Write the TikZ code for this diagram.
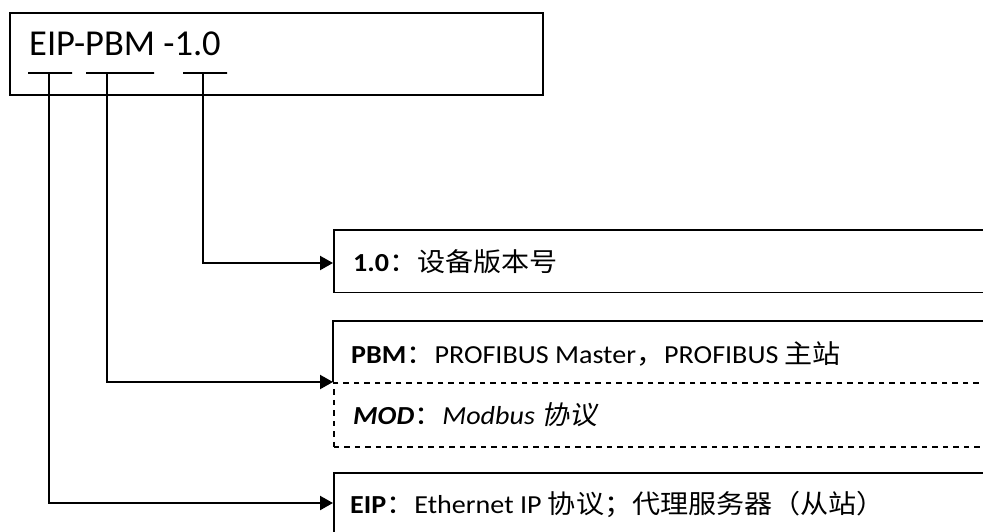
\documentclass[tikz,border=0pt]{standalone}
\usepackage{fontspec}
\setmainfont{Carlito}
\newfontfamily\wide{Carlito}[FakeStretch=1.08]
\newfontfamily\cjk{Noto Sans CJK SC}[FakeStretch=1.08]
\newfontfamily\cjkit{Noto Sans CJK SC}[FakeStretch=1.08, FakeSlant=0.2]
\usetikzlibrary{arrows.meta}

\tikzset{
  boxline/.style={line width=1.7pt, draw=black},
  framebox/.style={boxline, rectangle, inner sep=0pt, anchor=north west},
  dashbox/.style={framebox, dash pattern=on 5.5pt off 5pt},
  openbox/.style={rectangle, inner sep=0pt, anchor=north west},
  barline/.style={draw=black, line width=1.6pt, rectangle, inner sep=0pt,
                  minimum height=0pt},
  conn/.style={line width=2.2pt, -{Triangle[length=13pt,width=14pt]}},
  label/.style={anchor=base west, inner sep=0pt, font=\wide\fontsize{26}{30}\selectfont},
  title/.style={anchor=base west, inner sep=0pt, font=\fontsize{36.5}{42}\selectfont},
}

\begin{document}
\begin{tikzpicture}[x=1pt, y=-1pt]
  \useasboundingbox (0,0) rectangle (983,531);
  \clip (0,0) rectangle (983,531);
  \fill[white] (0,0) rectangle (983,531);

  % product code frame
  \node[framebox, minimum width=533pt, minimum height=82pt] (codebox) at (9,12) {};
  \node[title] (code) at (29,55) {EIP-PBM -1.0};

  % underline marks below each part of the code
  \node[barline, minimum width=44pt] (bareip) at (50,73) {};
  \node[barline, minimum width=68pt] (barpbm) at (120,73) {};
  \node[barline, minimum width=44pt] (barver) at (205,73) {};
  \coordinate (jeip) at (49,73);
  \coordinate (jpbm) at (107,73);
  \coordinate (jver) at (203,73);

  % version box
  \node[framebox, minimum width=700pt, minimum height=62.5pt] (verbox) at (333,229) {};
  \node[label] (vertext) at (353,271.5) {{\bfseries 1.0}{\cjk ：设备版本号}};
  \coordinate (verin) at (333,263);

  % protocol box: solid upper part, dashed alternative below
  \node[openbox, minimum width=700pt, minimum height=61pt] (pbmbox) at (333,321) {};
  \draw[boxline] (pbmbox.south west) -- (pbmbox.north west) -- (pbmbox.north east);
  \node[dashbox, minimum width=700pt, minimum height=64pt] (modbox) at (pbmbox.south west) {};
  \node[label] (pbmtext) at (351,363) {{\bfseries PBM}{\cjk ：}PROFIBUS Master{\cjk ，}PROFIBUS {\cjk 主站}};
  \node[label] (modtext) at (353,424) {{\bfseries\itshape MOD}{\cjk ：}{\itshape Modbus} {\cjkit 协议}};
  \coordinate (pbmin) at (333,382);

  % gateway box
  \node[framebox, minimum width=700pt, minimum height=90pt] (eipbox) at (333,472) {};
  \node[label] (eiptext) at (350,513) {{\bfseries EIP}{\cjk ：}Ethernet IP {\cjk 协议；代理服务器（从站）}};
  \coordinate (eipin) at (333,503);

  % leader lines
  \draw[conn] (jver) |- (verin);
  \draw[conn] (jpbm) |- (pbmin);
  \draw[conn] (jeip) |- (eipin);
\end{tikzpicture}
\end{document}
